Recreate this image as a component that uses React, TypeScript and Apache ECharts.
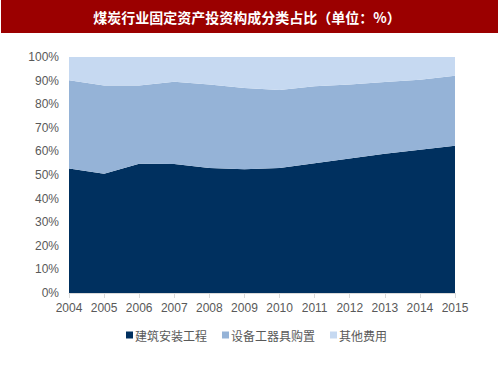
import React, { useEffect, useRef } from "react";
import * as echarts from "echarts";

const years = ["2004", "2005", "2006", "2007", "2008", "2009", "2010", "2011", "2012", "2013", "2014", "2015"];
const construction = [52.8, 50.5, 54.8, 54.7, 53.0, 52.4, 53.0, 55.0, 57.0, 59.0, 60.7, 62.4];
const equipment = [37.3, 37.4, 33.1, 34.8, 35.3, 34.5, 33.0, 32.6, 31.3, 30.4, 29.7, 29.7];
const other = [9.9, 12.1, 12.1, 10.5, 11.7, 13.1, 14.0, 12.4, 11.7, 10.6, 9.6, 7.9];
const seriesNames = ["建筑安装工程", "设备工器具购置", "其他费用"];
const colors = ["#00305F", "#95B3D7", "#C6D9F1"];
const titleText = "煤炭行业固定资产投资构成分类占比（单位：%）";

export default function App() {
  const ref = useRef<HTMLDivElement>(null);
  useEffect(() => {
    if (!ref.current) return;
    const chart = echarts.init(ref.current, null, { renderer: "svg" });
    const data = [construction, equipment, other];
    chart.setOption({
      animation: false,
      backgroundColor: "#ffffff",
      graphic: [
        {
          type: "rect",
          shape: { x: 1, y: 0, width: 497, height: 33 },
          style: { fill: "#9B0000" },
          silent: true,
        },
        {
          type: "text",
          x: 247,
          y: 17,
          style: {
            text: titleText,
            fill: "#ffffff",
            font: "bold 14px 'Noto Sans CJK SC', sans-serif",
            align: "center",
            verticalAlign: "middle",
          },
        },
      ],
      grid: { left: 69, right: 45, top: 57, bottom: 82, containLabel: false },
      legend: {
        data: seriesNames,
        bottom: 29,
        left: 121,
        icon: "rect",
        itemWidth: 7,
        itemHeight: 7,
        itemGap: 15,
        textStyle: { color: "#595959", fontSize: 12, fontFamily: "'Noto Sans CJK SC', sans-serif", padding: [0, 0, 0, -3] },
      },
      xAxis: {
        type: "category",
        data: years,
        boundaryGap: false,
        axisLine: { lineStyle: { color: "#D9D9D9" } },
        axisTick: { show: true, lineStyle: { color: "#D9D9D9" } },
        axisLabel: { color: "#595959", fontSize: 12, fontFamily: "'Liberation Sans', Arial, sans-serif", margin: 9, interval: 0 },
      },
      yAxis: {
        type: "value",
        min: 0,
        max: 100,
        interval: 10,
        axisLine: { show: false },
        axisTick: { show: false },
        splitLine: { show: false },
        axisLabel: {
          color: "#595959",
          fontSize: 12,
          fontFamily: "'Liberation Sans', Arial, sans-serif",
          margin: 10,
          formatter: "{value}%",
        },
      },
      series: seriesNames.map((name, i) => ({
        name,
        type: "line",
        stack: "total",
        data: data[i],
        symbol: "none",
        lineStyle: { width: 0 },
        itemStyle: { color: colors[i] },
        areaStyle: { color: colors[i], opacity: 1 },
      })),
    });
    return () => chart.dispose();
  }, []);
  return <div ref={ref} style={{ position: "fixed", left: 0, top: 0, width: 500, height: 375 }} />;
}
